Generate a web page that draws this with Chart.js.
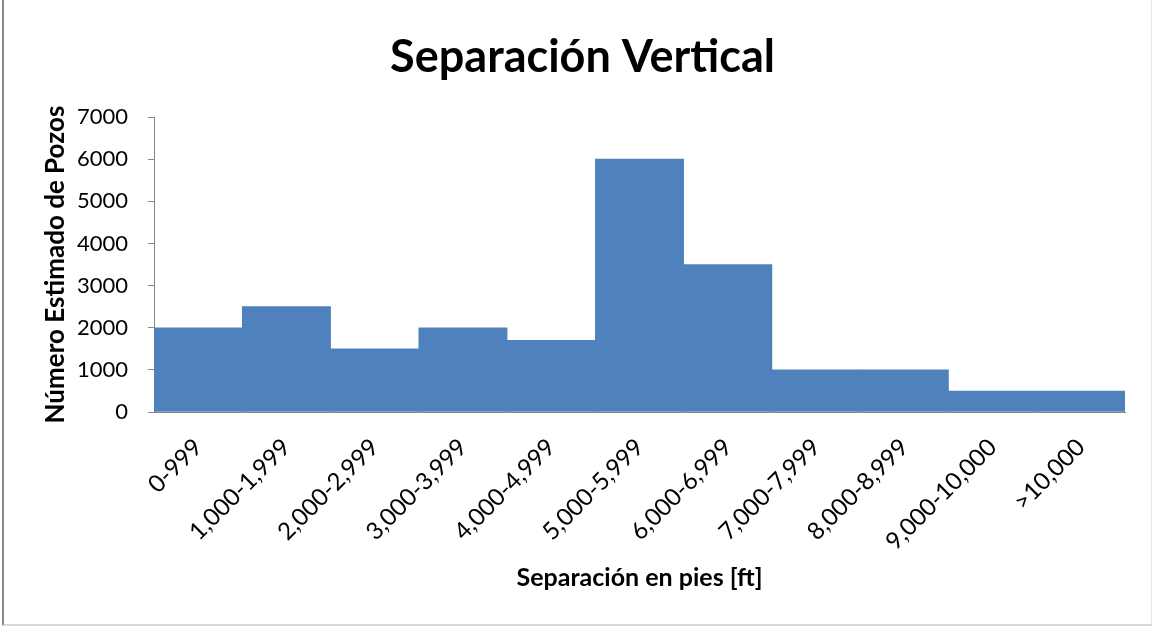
<!DOCTYPE html>
<html>
<head>
<meta charset="utf-8">
<script src="https://cdn.jsdelivr.net/npm/chart.js@4/dist/chart.umd.min.js"></script>
<style>
  html, body { margin: 0; padding: 0; background: #fff; }
  #box { position: absolute; left: 2px; top: 0; width: 1147px; height: 624px; border-left: 2px solid #888; border-bottom: 2px solid #d9d9d9; border-right: 1px solid #e6e6e6; }
  canvas { position: absolute; left: 0; top: 0; }
</style>
</head>
<body>
<div id="box"></div>
<canvas id="chart" width="1153" height="627"></canvas>
<script type="text/javascript">
    var rangos = ['0-999', '1,000-1,999', '2,000-2,999', '3,000-3,999', '4,000-4,999', '5,000-5,999',
                  '6,000-6,999', '7,000-7,999', '8,000-8,999', '9,000-10,000', '>10,000'];
    var pozos = [2000, 2500, 1500, 2000, 1700, 6000, 3500, 1000, 1000, 500, 500];
    var yMax = 7000;
    var yStep = 1000;

    var fuente = "Lato, 'Open Sans', sans-serif";

    var ctx = document.getElementById('chart');
    ctx.style.width = '1153px';
    ctx.style.height = '627px';

    window.grafico = new Chart(ctx.getContext('2d'), {
        type: 'bar',
        data: {
            labels: rangos,
            datasets: [{
                data: pozos,
                backgroundColor: '#4F81BD',
                borderWidth: 0,
                categoryPercentage: 1.0,
                barPercentage: 1.0
            }]
        },
        options: {
            responsive: false,
            animation: false,
            layout: { padding: { left: 40, right: 28, top: 0, bottom: 34 } },
            plugins: {
                legend: { display: false },
                tooltip: { enabled: false },
                title: {
                    display: true,
                    text: 'Separación Vertical',
                    color: '#000',
                    font: { family: fuente, size: 45, weight: 'bold' },
                    padding: { top: 30, bottom: 33 }
                }
            },
            scales: {
                x: {
                    grid: { display: false, drawTicks: false },
                    border: { color: '#888', width: 1 },
                    ticks: {
                        color: '#000',
                        font: { family: fuente, size: 24 },
                        minRotation: 45,
                        maxRotation: 45,
                        autoSkip: false,
                        padding: 21
                    },
                    title: {
                        display: true,
                        text: 'Separación en pies [ft]',
                        color: '#000',
                        font: { family: fuente, size: 25, weight: 'bold' },
                        padding: { top: -14, bottom: 0 }
                    }
                },
                y: {
                    min: 0,
                    max: yMax,
                    grid: { drawOnChartArea: false, drawTicks: true, tickLength: 6, color: '#888' },
                    border: { color: '#888', width: 1 },
                    ticks: {
                        stepSize: yStep,
                        color: '#000',
                        font: { family: fuente, size: 22 },
                        padding: 20,
                        callback: function(v) { return String(v); }
                    },
                    title: {
                        display: true,
                        text: 'Número Estimado de Pozos',
                        color: '#000',
                        font: { family: fuente, size: 26, weight: 'bold' },
                        padding: { top: 0, bottom: 10 }
                    },
                    afterFit: function(scale) { scale.width = 114; }
                }
            }
        }
    });
</script>
</body>
</html>
